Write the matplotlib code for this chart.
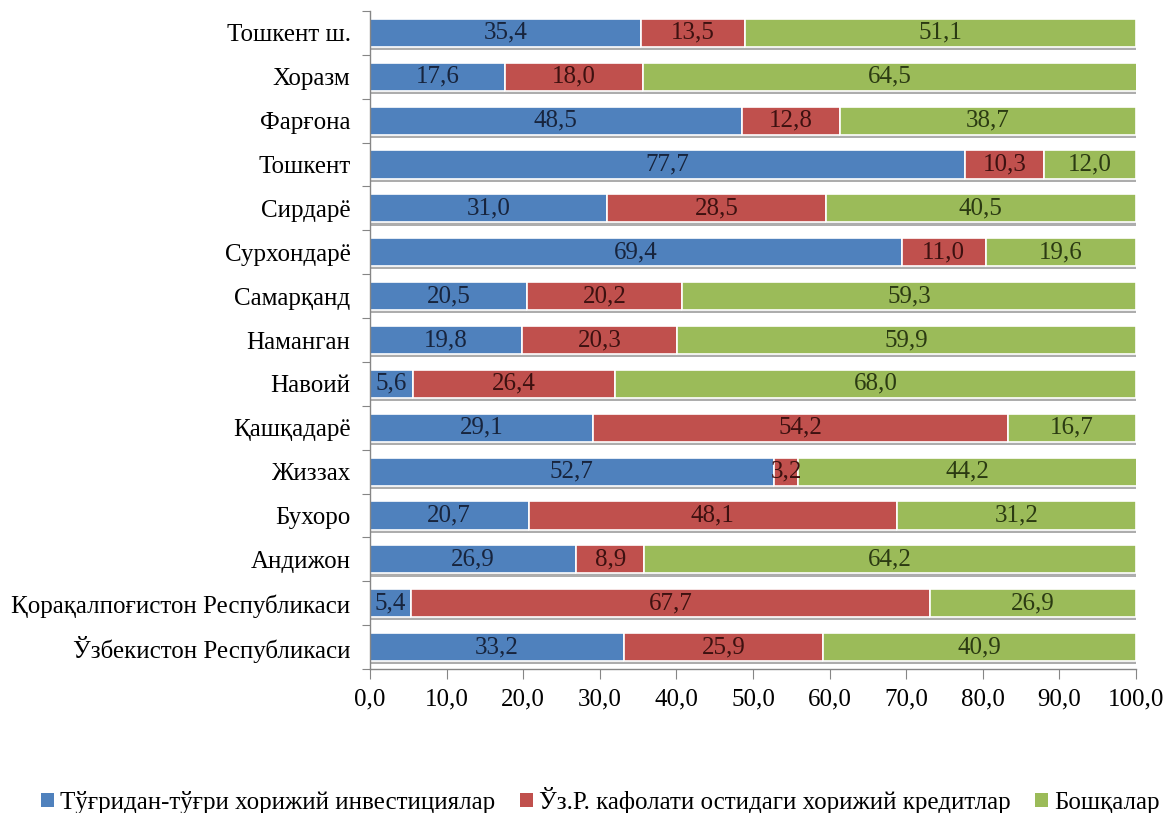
import matplotlib
matplotlib.use("Agg")
import matplotlib.pyplot as plt
import matplotlib.patheffects as pe
from matplotlib.patches import Patch
import numpy as np

# Regions listed bottom-to-top as they appear on the vertical axis
regions = [
    "Ўзбекистон Республикаси",
    "Қорақалпоғистон Республикаси",
    "Андижон",
    "Бухоро",
    "Жиззах",
    "Қашқадарё",
    "Навоий",
    "Наманган",
    "Самарқанд",
    "Сурхондарё",
    "Сирдарё",
    "Тошкент",
    "Фарғона",
    "Хоразм",
    "Тошкент ш.",
]

# Share of each financing source, %
direct_fdi = [33.2, 5.4, 26.9, 20.7, 52.7, 29.1, 5.6, 19.8, 20.5, 69.4, 31.0, 77.7, 48.5, 17.6, 35.4]
guaranteed_credits = [25.9, 67.7, 8.9, 48.1, 3.2, 54.2, 26.4, 20.3, 20.2, 11.0, 28.5, 10.3, 12.8, 18.0, 13.5]
other_sources = [40.9, 26.9, 64.2, 31.2, 44.2, 16.7, 68.0, 59.9, 59.3, 19.6, 40.5, 12.0, 38.7, 64.5, 51.1]

series_names = [
    "Тўғридан-тўғри хорижий инвестициялар",
    "Ўз.Р. кафолати остидаги хорижий кредитлар",
    "Бошқалар",
]
x_ticks = np.arange(0, 101, 10)

plt.rcParams["font.family"] = ["Liberation Serif", "DejaVu Serif"]
FS = 18

fills = ["#4F81BD", "#C0504D", "#9BBB59"]
text_cols = ["#17243d", "#3d1110", "#2b3a12"]

fig = plt.figure(figsize=(11.66, 8.13), dpi=100)
ax = fig.add_axes([0.3173, 0.177, 0.9743 - 0.3173, 0.9865 - 0.177])

y = np.arange(len(regions))
left = np.zeros(len(regions))
shadow = [pe.SimplePatchShadow(offset=(0, -2.2), shadow_rgbFace="#8a8a8a", alpha=0.7), pe.Normal()]
for vals, fc, tc in zip([direct_fdi, guaranteed_credits, other_sources], fills, text_cols):
    vals = np.array(vals)
    ax.barh(y, vals, left=left, height=0.64, color=fc, edgecolor="white",
            linewidth=1.2, path_effects=shadow)
    for yi, l, v in zip(y, left, vals):
        ax.text(l + v / 2, yi, f"{v:.1f}".replace(".", ","), ha="center", va="center",
                fontsize=FS, color=tc)
    left = left + vals

ax.set_xlim(0, 100)
ax.set_ylim(-0.5, len(regions) - 0.5)

# Ticks between categories, labels at category centres
ax.set_yticks(np.arange(-0.5, len(regions), 1.0))
ax.set_yticklabels([])
ax.set_yticks(y, minor=True)
ax.set_yticklabels(regions, minor=True, fontsize=FS)
ax.tick_params(axis="y", which="major", length=6, color="#868686", direction="out")
ax.tick_params(axis="y", which="minor", length=0, pad=14)

ax.set_xticks(x_ticks)
ax.set_xticklabels([f"{v:.1f}".replace(".", ",") for v in x_ticks], fontsize=FS)
ax.tick_params(axis="x", length=7, color="#868686", direction="out", pad=7)

for s in ["top", "right"]:
    ax.spines[s].set_visible(False)
for s in ["left", "bottom"]:
    ax.spines[s].set_color("#868686")
    ax.spines[s].set_linewidth(1.0)

handles = [Patch(facecolor=c, edgecolor="none") for c in fills]
fig.legend(handles=handles, labels=series_names, loc="center",
           bbox_to_anchor=(0.515, 1 - 800 / 813), ncol=3, frameon=False, fontsize=FS,
           handlelength=0.5, handleheight=0.5, handletextpad=0.25, columnspacing=1.0,
           borderpad=0.2)

fig.savefig("out.png", dpi=100)
